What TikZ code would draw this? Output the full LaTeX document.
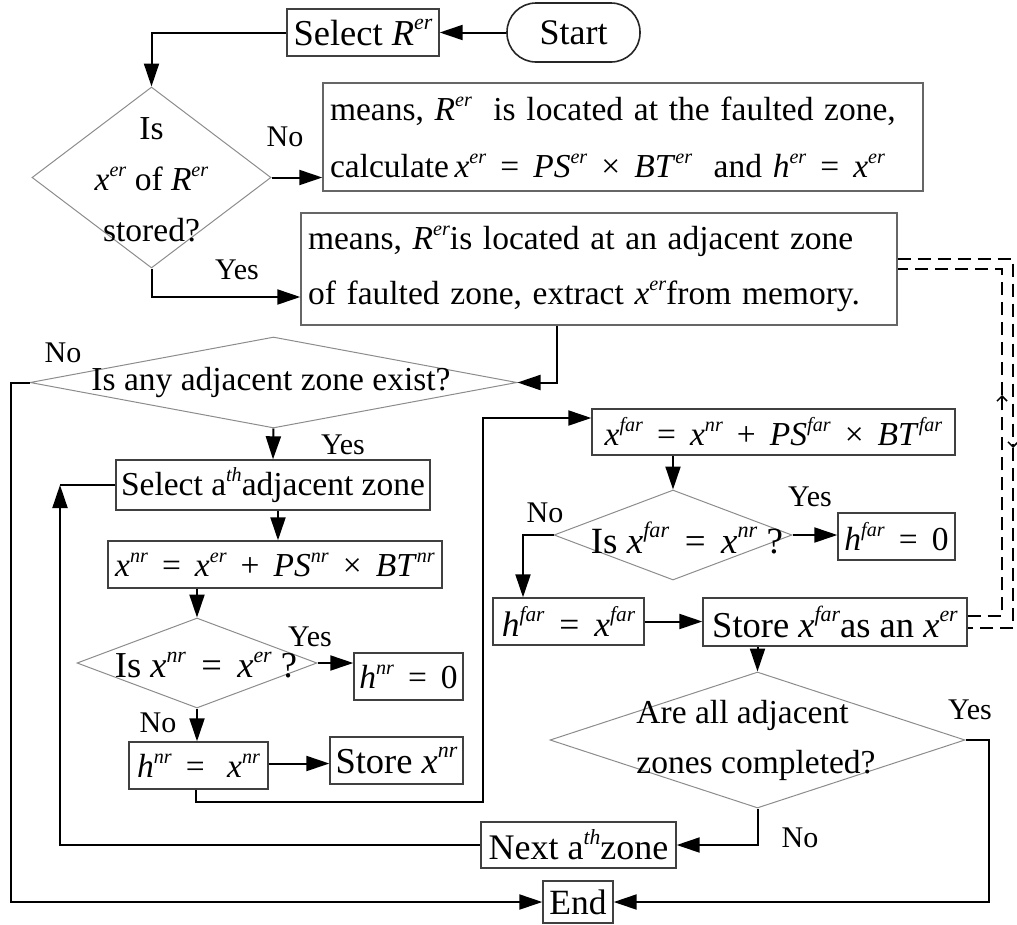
\documentclass[tikz,border=0pt]{standalone}
\usepackage{fontspec}
\usepackage{graphicx}
\setmainfont{Liberation Serif}
\usetikzlibrary{shapes.geometric,arrows.meta}
\newcommand\sps[1]{\raisebox{0.42em}{\scalebox{0.6}{\textit{#1}}}}
\newcommand\sv[2]{\textit{#1}\sps{#2}}
\newcommand\opr[1]{\hspace{0.42em}#1\hspace{0.42em}}
\newcommand\wbox[1]{\mbox{\spaceskip=0.32em\relax #1}}
\begin{document}
\begin{tikzpicture}[x=1pt,y=-1pt,
 every node/.style={font=\fontsize{33.5}{40}\selectfont, inner sep=0pt},
 fs/.style={font=\fontsize{#1}{40}\selectfont},
 bx/.style={draw=black!75, line width=1.4pt, rectangle},
 dia/.style={diamond, draw=black!45, line width=1pt},
 term/.style={draw=black!85, line width=1.6pt, rectangle, rounded corners=29pt},
 lbl/.style={font=\fontsize{30}{36}\selectfont},
 arr/.style={line width=2pt, -{Triangle[length=23pt,width=15pt]}},
 con/.style={line width=2pt},
 dl/.style={dash pattern=on 13pt off 7pt, line width=1.5pt},
 dtip/.style={-{Straight Barb[length=5pt,width=10pt]}}
]
\useasboundingbox (0,0) rectangle (1017,924);

% nodes
\node[term, fs=36, minimum width=133, minimum height=59] (start) at (573.5,32.5) {Start};
\node[bx, fs=36.5, minimum width=152, minimum height=47] (selR) at (363,32.5) {Select \sv{R}{er}};
\node[dia, minimum width=239, minimum height=181] (d1) at (151.5,177.5) {};
\node[align=center, font=\fontsize{33.5}{51}\selectfont] (d1t) at (151.5,180) {Is\\\sv{x}{er} of \sv{R}{er}\\stored?};
\node[bx, draw=black!60, minimum width=600, minimum height=108, text width=586, align=left, font=\fontsize{33.5}{57}\selectfont] (m1) at (623,137)
 {\wbox{means, \sv{R}{er}\ \ is located at the faulted zone,}\\\wbox{calculate\,\sv{x}{er}\opr{=}\sv{PS}{er}\opr{×}\sv{BT}{er}\ \ and \sv{h}{er}\opr{=}\sv{x}{er}}};
\node[bx, draw=black!60, minimum width=596, minimum height=112, text width=582, align=left, font=\fontsize{33.5}{55}\selectfont] (m2) at (599,269)
 {\wbox{means, \sv{R}{er}is located at an adjacent zone}\\\wbox{of faulted zone, extract \sv{x}{er}from memory.}};
\node[dia, minimum width=487, minimum height=91] (d2) at (273.5,382.5) {};
\node (d2t) at (271,382) {Is any adjacent zone exist?};
\node[bx, minimum width=314, minimum height=50] (sela) at (273,485) {Select a\sps{th}adjacent zone};
\node[bx, minimum width=334, minimum height=47] (xnr) at (275,564.5) {\sv{x}{nr}\opr{=}\sv{x}{er}\opr{+}\sv{PS}{nr}\opr{×}\sv{BT}{nr}};
\node[dia, minimum width=240, minimum height=90] (d3) at (197,663) {};
\node[fs=36.5] (d3t) at (206,665) {Is \sv{x}{nr}\opr{=}\sv{x}{er} ?};
\node[bx, minimum width=109, minimum height=47] (hn0) at (408.5,676.5) {\sv{h}{nr}\opr{=}0};
\node[bx, minimum width=139, minimum height=47] (hn) at (198.5,765.5) {\sv{h}{nr}\opr{=}\ \sv{x}{nr}};
\node[bx, fs=36.5, minimum width=133, minimum height=47] (sn) at (396.5,760.5) {Store \sv{x}{nr}};
\node[bx, minimum width=363, minimum height=46] (xf) at (773.5,432) {\sv{x}{far}\opr{=}\sv{x}{nr}\opr{+}\sv{PS}{far}\opr{×}\sv{BT}{far}};
\node[dia, minimum width=238, minimum height=90] (d4) at (673,535) {};
\node[fs=37] (d4t) at (687,538) {Is \sv{x}{far}\opr{=}\sv{x}{nr} ?};
\node[bx, minimum width=117, minimum height=47] (hf0) at (896.5,536.5) {\sv{h}{far}\opr{=}0};
\node[bx, fs=35.5, minimum width=151, minimum height=47] (hf) at (568.5,621.5) {\sv{h}{far}\opr{=}\sv{x}{far}};
\node[bx, fs=36.5, minimum width=264, minimum height=48] (sf) at (835,622) {Store \sv{x}{far}as an \sv{x}{er}};
\node[dia, minimum width=415, minimum height=136] (d5) at (757.5,740) {};
\node[align=left, font=\fontsize{33.5}{50}\selectfont] (d5t) at (756,740) {Are all adjacent\\zones completed?};
\node[bx, fs=36, minimum width=195, minimum height=46] (next) at (578.5,845) {Next a\sps{th}zone};
\node[bx, fs=35.5, minimum width=70, minimum height=42] (end) at (578,902) {End};

% labels
\node[lbl] (l1) at (285,137) {No};
\node[lbl] (l2) at (237,270) {Yes};
\node[lbl] (l3) at (63,353) {No};
\node[lbl] (l4) at (343,445) {Yes};
\node[lbl] (l5) at (310,637) {Yes};
\node[lbl] (l6) at (158,723) {No};
\node[lbl] (l7) at (810,497) {Yes};
\node[lbl] (l8) at (545,513) {No};
\node[lbl] (l9) at (970,710) {Yes};
\node[lbl] (l10) at (800,838) {No};

% helper coordinates
\coordinate (cL) at (11,0);
\coordinate (cLL) at (60,0);
\coordinate (cR) at (989,0);
\coordinate (cB) at (483,802);
\coordinate (oA) at (1013,259);
\coordinate (oB) at (1013,448);
\coordinate (oC) at (1013,628);
\coordinate (iA) at (1002,269);
\coordinate (iB) at (1002,395);
\coordinate (iC) at (1002,616);

% connectors
\draw[arr] (start.west) -- (selR.east);
\draw[arr] (selR.west) -| (d1.north);
\draw[arr] (d1.east) -- (d1.east -| m1.west);
\draw[arr] (d1.south) |- ([yshift=-28pt]m2.west);
\draw[arr] ([xshift=-42pt]m2.south) |- (d2.east);
\draw[arr] (d2.west) -- (d2.west -| cL) |- (end.west);
\draw[arr] (d2.south) -- (sela.north);
\draw[arr] ([xshift=5pt]sela.south) -- ([xshift=5pt]sela.south |- xnr.north);
\draw[arr] (xnr.south -| d3.north) -- (d3.north);
\draw[arr] (d3.east) -- (d3.east -| hn0.west);
\draw[arr] (d3.south) -- (d3.south |- hn.north);
\draw[arr] ([yshift=2pt]hn.east) -- ([yshift=2pt]hn.east -| sn.west);
\draw[arr] ([xshift=-3pt]hn.south) |- (cB) |- ([yshift=14pt]xf.west);
\draw[arr] (xf.south -| d4.north) -- (d4.north);
\draw[arr] (d4.east) -- (d4.east -| hf0.west);
\draw[arr] (d4.west) -| ([xshift=-45.5pt]hf.north);
\draw[arr] (hf.east) -- (hf.east -| sf.west);
\draw[arr] (sf.south -| d5.north) -- (d5.north);
\draw[arr] (d5.east) -- (d5.east -| cR) |- (end.east);
\draw[arr] (d5.south) |- (next.east);
\draw[arr] (next.west) -- (next.west -| cLL) -- (cLL |- sela.west);
\draw[con] (cLL |- sela.west) -- (sela.west);

% dashed links
\draw[dl, dtip] ([yshift=10pt]m2.east) -- (oA) -- (oB);
\draw[dl] (oB) -- (oC) -- (oC -| sf.east);
\draw[dl, dtip] ([yshift=6pt]sf.east) -- (iC) -- (iB);
\draw[dl] (iB) -- (iA) -- (m2.east);
\end{tikzpicture}
\end{document}
